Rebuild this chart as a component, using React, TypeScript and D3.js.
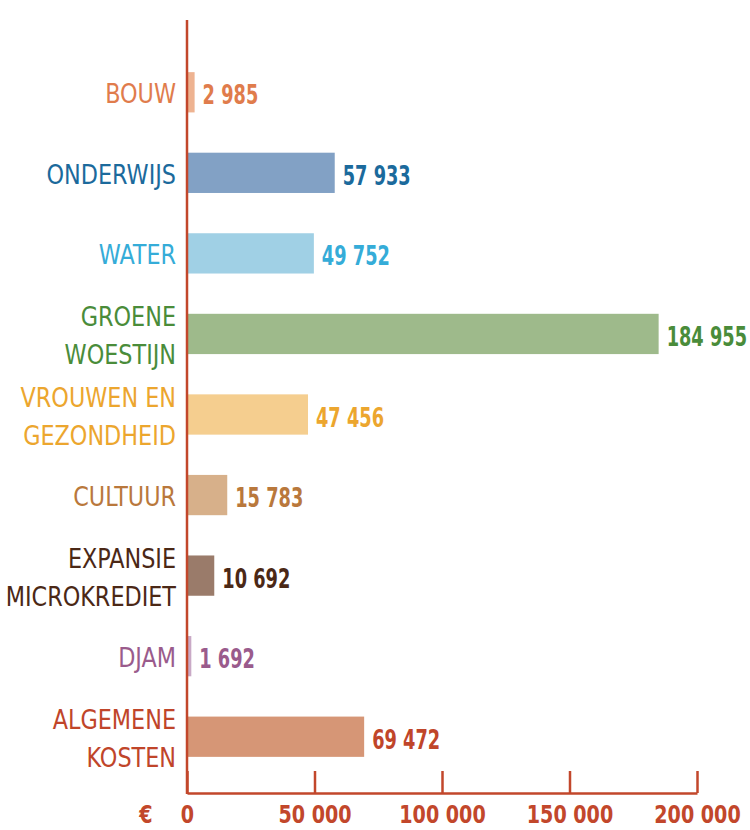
import * as d3 from "d3";
import React, { useRef, useEffect } from "react";

// categories, top to bottom (each label may span two lines)
const categories = [
  "BOUW",
  "ONDERWIJS",
  "WATER",
  "GROENE WOESTIJN",
  "VROUWEN EN GEZONDHEID",
  "CULTUUR",
  "EXPANSIE MICROKREDIET",
  "DJAM",
  "ALGEMENE KOSTEN",
];
const labelLines = [
  ["BOUW"],
  ["ONDERWIJS"],
  ["WATER"],
  ["GROENE", "WOESTIJN"],
  ["VROUWEN EN", "GEZONDHEID"],
  ["CULTUUR"],
  ["EXPANSIE", "MICROKREDIET"],
  ["DJAM"],
  ["ALGEMENE", "KOSTEN"],
];
const amounts = [2985, 57933, 49752, 184955, 47456, 15783, 10692, 1692, 69472];
const textColors = [
  "#e07c4c", "#1b6a9c", "#35acd8", "#4a8c3a", "#eca62e",
  "#b9783c", "#4b2816", "#9a5b8c", "#c0452a",
];
const barColors = [
  "#eeb391", "#82a1c5", "#a0d0e5", "#9eba8b", "#f5ce8f",
  "#d7b08a", "#9a7b6a", "#c9a9c6", "#d69676",
];
const tickValues = [0, 50000, 100000, 150000, 200000];

const axisColor = "#c2472b";
const font = "'DejaVu Sans Condensed', 'DejaVu Sans', sans-serif";
// the original uses a narrow face, so squeeze the text horizontally
const labelSqueeze = 0.955;
const numSqueeze = 0.76;

const W = 750;
const H = 830;

function BarChart() {
  const ref = useRef<SVGSVGElement>(null);

  useEffect(() => {
    const svg = d3.select(ref.current);
    svg.selectAll("*").remove();

    const nl = d3.formatLocale({
      decimal: ",",
      thousands: " ",
      grouping: [3],
      currency: ["€", ""],
    });
    const fmt = nl.format(",d");

    var x = d3.scaleLinear().domain([0, 200000]).range([187, 697]);
    var y = d3
      .scaleBand()
      .domain(categories)
      .range([52, 777])
      .paddingInner(0.5)
      .paddingOuter(0.25);

    // bars
    svg
      .selectAll("rect.bar")
      .data(amounts)
      .enter()
      .append("rect")
      .attr("class", "bar")
      .attr("x", x(0))
      .attr("y", (d, i) => y(categories[i])!)
      .attr("width", (d) => x(d) - x(0))
      .attr("height", y.bandwidth())
      .attr("fill", (d, i) => barColors[i]);

    // values at the end of each bar
    svg
      .selectAll("text.value")
      .data(amounts)
      .enter()
      .append("text")
      .attr("class", "value")
      .attr(
        "transform",
        (d, i) =>
          "translate(" + (x(d) + 8) + "," + (y(categories[i])! + y.bandwidth() / 2 + 12) + ") scale(" + numSqueeze + ",1)"
      )
      .attr("font-family", font)
      .attr("font-weight", "bold")
      .attr("font-size", 26)
      .attr("fill", (d, i) => textColors[i])
      .text((d) => fmt(d));

    // category labels, right aligned against the axis
    categories.forEach((c, i) => {
      const lines = labelLines[i];
      const mid = y(c)! + y.bandwidth() / 2;
      lines.forEach((ln, j) => {
        const off = (j - (lines.length - 1) / 2) * 38;
        svg
          .append("text")
          .attr("transform", "translate(176," + (mid + off + 11) + ") scale(" + labelSqueeze + ",1)")
          .attr("text-anchor", "end")
          .attr("font-family", font)
          .attr("font-size", 26)
          .attr("fill", textColors[i])
          .text(ln);
      });
    });

    // x axis
    const axisG = svg
      .append("g")
      .attr("transform", "translate(0,793)")
      .call(
        d3
          .axisBottom(x)
          .tickValues(tickValues)
          .tickSizeInner(-22)
          .tickSizeOuter(0)
          .tickPadding(12)
          .tickFormat((d) => fmt(d as number))
      );
    axisG.select(".domain").attr("stroke", axisColor).attr("stroke-width", 2.5);
    axisG.selectAll(".tick line").attr("stroke", axisColor).attr("stroke-width", 2.5);
    axisG
      .selectAll(".tick text")
      .attr("fill", axisColor)
      .attr("font-family", font)
      .attr("font-weight", "bold")
      .attr("font-size", 25)
      .attr("transform", "scale(0.85,1)");

    // vertical axis line
    svg
      .append("line")
      .attr("x1", x(0))
      .attr("x2", x(0))
      .attr("y1", 20)
      .attr("y2", 794)
      .attr("stroke", axisColor)
      .attr("stroke-width", 2.5);

    // euro sign
    svg
      .append("text")
      .attr("transform", "translate(146,805) scale(0.85,1)")
      .attr("dy", "0.71em")
      .attr("text-anchor", "middle")
      .attr("font-family", font)
      .attr("font-weight", "bold")
      .attr("font-size", 25)
      .attr("fill", axisColor)
      .text("€");
  }, []);

  return (
    <svg
      ref={ref}
      width={W}
      height={H}
      style={{ position: "absolute", left: 0, top: 0, background: "#fff" }}
    ></svg>
  );
}

export default function App() {
  return <BarChart />;
}
